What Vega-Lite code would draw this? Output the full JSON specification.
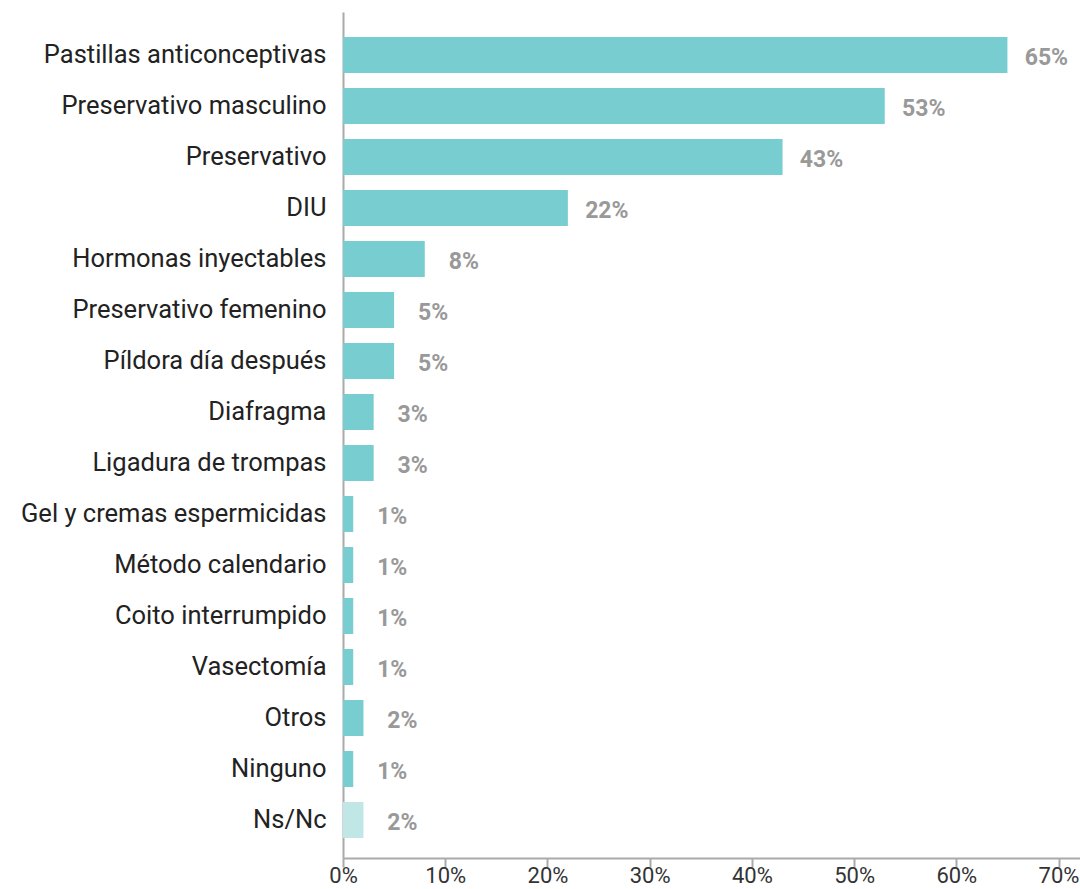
{
  "$schema": "https://vega.github.io/schema/vega-lite/v6.json",
  "autosize": {"type": "none"},
  "padding": {"left": 343, "top": 12, "right": 0, "bottom": 31},
  "width": 737,
  "height": 846,
  "background": "white",
  "config": {"view": {"stroke": null}, "font": "Roboto"},
  "data": {
    "values": [
      {"metodo": "Pastillas anticonceptivas", "pct": 0.65, "grupo": "a"},
      {"metodo": "Preservativo masculino", "pct": 0.53, "grupo": "a"},
      {"metodo": "Preservativo", "pct": 0.43, "grupo": "a"},
      {"metodo": "DIU", "pct": 0.22, "grupo": "a"},
      {"metodo": "Hormonas inyectables", "pct": 0.08, "grupo": "a"},
      {"metodo": "Preservativo femenino", "pct": 0.05, "grupo": "a"},
      {"metodo": "Píldora día después", "pct": 0.05, "grupo": "a"},
      {"metodo": "Diafragma", "pct": 0.03, "grupo": "a"},
      {"metodo": "Ligadura de trompas", "pct": 0.03, "grupo": "a"},
      {"metodo": "Gel y cremas espermicidas", "pct": 0.01, "grupo": "a"},
      {"metodo": "Método calendario", "pct": 0.01, "grupo": "a"},
      {"metodo": "Coito interrumpido", "pct": 0.01, "grupo": "a"},
      {"metodo": "Vasectomía", "pct": 0.01, "grupo": "a"},
      {"metodo": "Otros", "pct": 0.02, "grupo": "a"},
      {"metodo": "Ninguno", "pct": 0.01, "grupo": "a"},
      {"metodo": "Ns/Nc", "pct": 0.02, "grupo": "b"}
    ]
  },
  "encoding": {
    "y": {
      "field": "metodo",
      "type": "nominal",
      "sort": null,
      "scale": {"paddingInner": 0.294, "paddingOuter": 0.441, "align": 0.556},
      "axis": {
        "title": null,
        "ticks": false,
        "domainColor": "#aaaaaa",
        "domainWidth": 2,
        "labelFontSize": 25.5,
        "labelColor": "#222222",
        "labelPadding": 17,
        "labelLimit": 400
      }
    },
    "x": {
      "field": "pct",
      "type": "quantitative",
      "scale": {"domain": [0, 0.721], "nice": false},
      "axis": {
        "title": null,
        "values": [0, 0.1, 0.2, 0.3, 0.4, 0.5, 0.6, 0.7],
        "format": ".0%",
        "grid": false,
        "domainColor": "#aaaaaa",
        "domainWidth": 2,
        "tickColor": "#aaaaaa",
        "tickWidth": 2,
        "tickSize": 9,
        "labelFontSize": 22,
        "labelColor": "#333333",
        "labelPadding": -2,
        "labelFlush": false,
        "labelOverlap": false
      }
    }
  },
  "layer": [
    {
      "mark": {"type": "bar"},
      "encoding": {
        "color": {
          "field": "grupo",
          "type": "nominal",
          "scale": {"domain": ["a", "b"], "range": ["#77CDD0", "#C0E6E6"]},
          "legend": null
        }
      }
    },
    {
      "mark": {"type": "text", "align": "center", "baseline": "middle", "dx": 39, "dy": 3, "fontSize": 23, "fontWeight": "bold", "color": "#999999"},
      "encoding": {
        "text": {"field": "pct", "type": "quantitative", "format": ".0%"},
        "x": {"field": "pct", "type": "quantitative"}
      }
    }
  ]
}
